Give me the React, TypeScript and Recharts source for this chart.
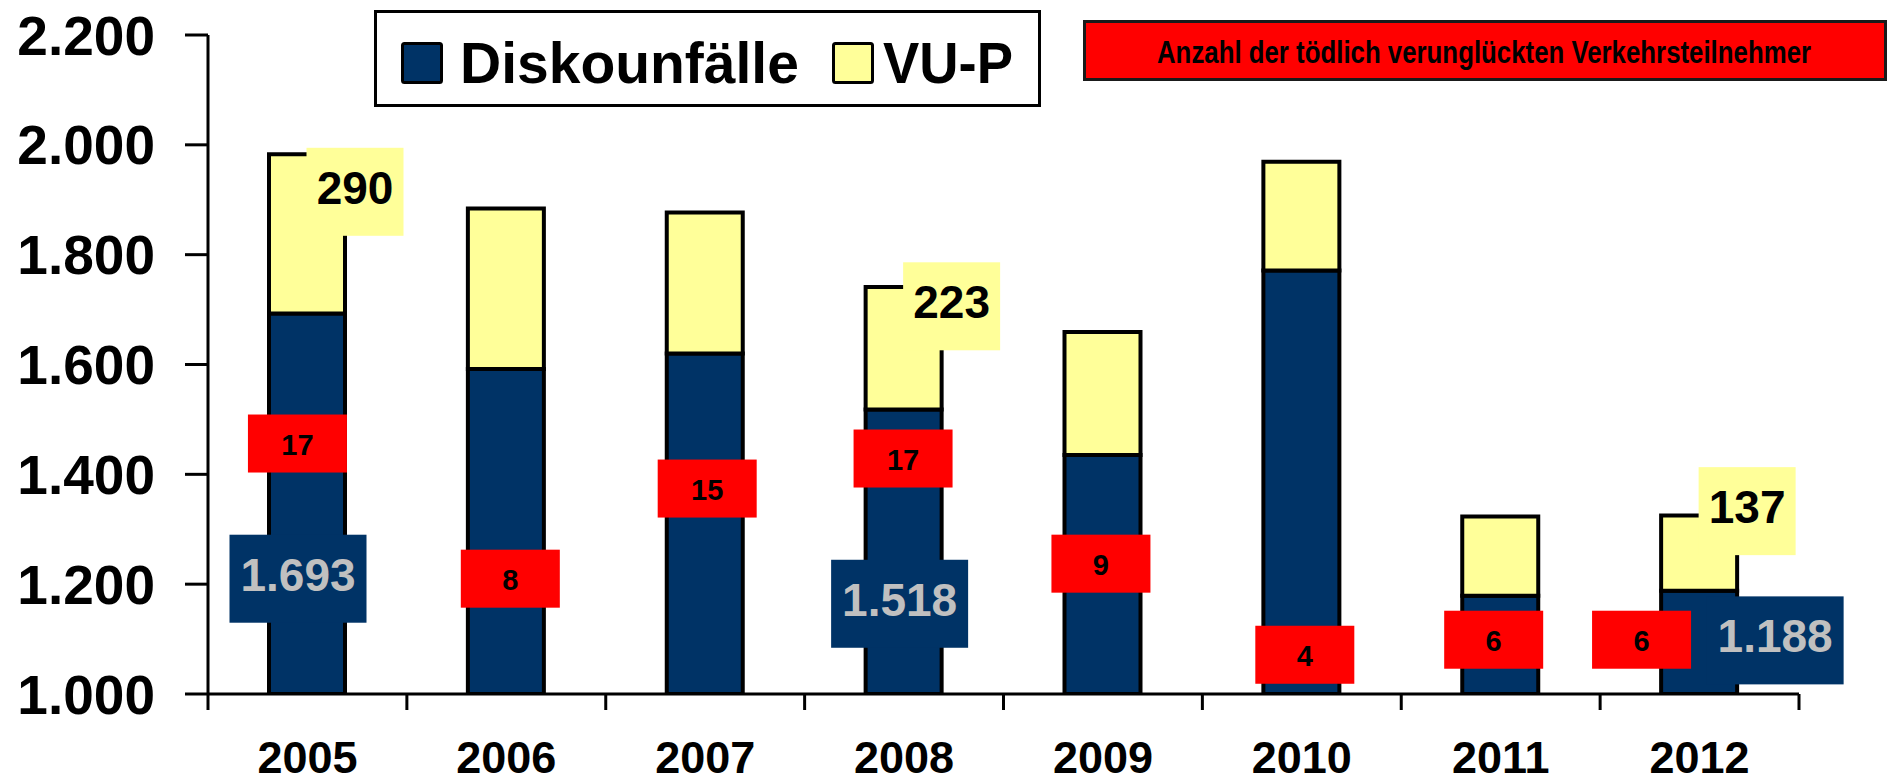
import React from 'react';
import { Bar, ComposedChart, LabelList, Legend, Line, XAxis, YAxis } from 'recharts';

const years = ['2005', '2006', '2007', '2008', '2009', '2010', '2011', '2012'];
const diskounfaelle = [1693, 1592, 1620, 1518, 1435, 1771, 1179, 1188];
const vuP = [290, 292, 257, 223, 224, 198, 144, 137];
const getoetete = [17, 8, 15, 17, 9, 4, 6, 6];
// only these years carry value labels on the bars
const labelledYears = ['2005', '2008', '2012'];
const yTicks = [1000, 1200, 1400, 1600, 1800, 2000, 2200];

const data = years.map((year, i) => ({
  year,
  disk: diskounfaelle[i],
  vup: vuP[i],
  tote: getoetete[i],
}));

const FONT = '"Liberation Sans", Arial, sans-serif';
const BLUE = '#003366';
const YELLOW = '#FFFF99';
const RED = '#FF0000';

const fmt = (v: number) => String(v).replace(/\B(?=(\d{3})+(?!\d))/g, '.');

// labels were dragged around by hand in the original, so nudge them
const diskNudge: Record<number, [number, number]> = { 0: [-9, 75], 3: [-4, 52], 7: [76, -2] };
const vupNudge: [number, number] = [48, -42];
const redNudge: [number, number][] = [
  [-10, -7], [4, -16], [2, 6], [-1, 8], [-2, -15], [3, -4], [-7, 13], [-58, 13],
];

const geom = (p: any) => {
  const vb = p.viewBox ?? {};
  return {
    x: vb.x ?? p.x,
    y: vb.y ?? p.y,
    width: vb.width ?? p.width ?? 0,
    height: vb.height ?? p.height ?? 0,
  };
};

const DiskLabel = (p: any) => {
  const idx = p.index;
  if (!labelledYears.includes(years[idx])) return null;
  const { x, y, width, height } = geom(p);
  const [dx, dy] = diskNudge[idx] ?? [0, 0];
  const cx = x + width / 2 + dx;
  const cy = y + height / 2 + dy;
  return (
    <g>
      <rect x={cx - 68.5} y={cy - 44} width={137} height={88} fill={BLUE} />
      <text x={cx} y={cy + 12} textAnchor="middle" fontFamily={FONT} fontWeight={700} fontSize={46} fill="#C0C0C0">
        {fmt(diskounfaelle[idx])}
      </text>
    </g>
  );
};

const VupLabel = (p: any) => {
  const idx = p.index;
  if (!labelledYears.includes(years[idx])) return null;
  const { x, y, width, height } = geom(p);
  const cx = x + width / 2 + vupNudge[0];
  const cy = y + height / 2 + vupNudge[1];
  return (
    <g>
      <rect x={cx - 48.5} y={cy - 44} width={97} height={88} fill={YELLOW} />
      <text x={cx} y={cy + 12} textAnchor="middle" fontFamily={FONT} fontWeight={700} fontSize={46} fill="#000">
        {vuP[idx]}
      </text>
    </g>
  );
};

const ToteLabel = (p: any) => {
  const idx = p.index;
  const { x, y } = geom(p);
  const [dx, dy] = redNudge[idx] ?? [0, 0];
  const cx = x + dx;
  const cy = y + dy;
  return (
    <g>
      <rect x={cx - 49.5} y={cy - 29} width={99} height={58} fill={RED} />
      <text x={cx} y={cy + 11} textAnchor="middle" fontFamily={FONT} fontWeight={700} fontSize={29} fill="#000">
        {getoetete[idx]}
      </text>
    </g>
  );
};

const YearTick = (props: any) => {
  const { x, y, payload, index } = props;
  const half = payload?.offset || 99.4;
  return (
    <g>
      <line x1={x - half} y1={y} x2={x - half} y2={y + 16} stroke="#000" strokeWidth={3} />
      {index === years.length - 1 && (
        <line x1={x + half} y1={y} x2={x + half} y2={y + 16} stroke="#000" strokeWidth={3} />
      )}
      <text x={x} y={y + 79} textAnchor="middle" fontFamily={FONT} fontWeight={700} fontSize={45} fill="#000">
        {payload.value}
      </text>
    </g>
  );
};

const renderLegend = () => (
  <svg width={1890} height={110} style={{ display: 'block' }}>
    <rect x={375.5} y={11.5} width={664} height={94} fill="#fff" stroke="#000" strokeWidth={3} />
    <rect x={402.5} y={43.5} width={39} height={39} rx={2} fill={BLUE} stroke="#000" strokeWidth={3} />
    <text x={460} y={83} fontFamily={FONT} fontWeight={700} fontSize={57} fill="#000">
      Diskounfälle
    </text>
    <rect x={833.5} y={43.5} width={39} height={39} rx={2} fill={YELLOW} stroke="#000" strokeWidth={3} />
    <text x={883} y={83} fontFamily={FONT} fontWeight={700} fontSize={57} fill="#000" textLength={130} lengthAdjust="spacingAndGlyphs">
      VU-P
    </text>
    <rect x={1084.5} y={21.5} width={801} height={58} fill={RED} stroke="#1a1a1a" strokeWidth={3} />
    {/* condensed bold type in the original */}
    <text transform="translate(1484 63) scale(0.833 1)" textAnchor="middle" fontFamily={FONT} fontWeight={700} fontSize={31} fill="#000">
      Anzahl der tödlich verunglückten Verkehrsteilnehmer
    </text>
  </svg>
);

export default function App() {
  return (
    <div style={{ position: 'absolute', left: 0, top: 0, width: 1890, height: 783, background: '#fff' }}>
      <ComposedChart width={1890} height={783} data={data} margin={{ top: 35, right: 91, bottom: 9, left: 0 }}>
        <XAxis
          dataKey="year"
          height={80}
          tickSize={0}
          tickMargin={0}
          tick={<YearTick />}
          interval={0}
          axisLine={{ stroke: '#000', strokeWidth: 3 }}
        />
        <YAxis
          yAxisId="left"
          width={208}
          domain={[1000, 2200]}
          ticks={yTicks}
          allowDataOverflow
          tickFormatter={fmt}
          tickSize={23}
          tickMargin={30}
          axisLine={{ stroke: '#000', strokeWidth: 3 }}
          tickLine={{ stroke: '#000', strokeWidth: 3 }}
          tick={{ fontSize: 55, fontWeight: 700, fill: '#000', fontFamily: FONT }}
        />
        <YAxis yAxisId="right" orientation="right" hide domain={[1.8, 42.94]} allowDataOverflow type="number" />
        <Legend
          layout="horizontal"
          verticalAlign="middle"
          align="center"
          content={renderLegend}
          wrapperStyle={{ left: 0, top: 0, width: 1890, height: 110, margin: 0, padding: 0 }}
        />
        <Bar yAxisId="left" dataKey="disk" name="Diskounfälle" stackId="a" fill={BLUE} stroke="#000" strokeWidth={4} barSize={76} isAnimationActive={false}>
          <LabelList dataKey="disk" content={DiskLabel} />
        </Bar>
        <Bar yAxisId="left" dataKey="vup" name="VU-P" stackId="a" fill={YELLOW} stroke="#000" strokeWidth={4} barSize={76} isAnimationActive={false}>
          <LabelList dataKey="vup" content={VupLabel} />
        </Bar>
        <Line
          yAxisId="right"
          dataKey="tote"
          name="Getötete"
          stroke="none"
          dot={false}
          activeDot={false}
          legendType="none"
          isAnimationActive={false}
        >
          <LabelList dataKey="tote" content={ToteLabel} />
        </Line>
      </ComposedChart>
    </div>
  );
}
